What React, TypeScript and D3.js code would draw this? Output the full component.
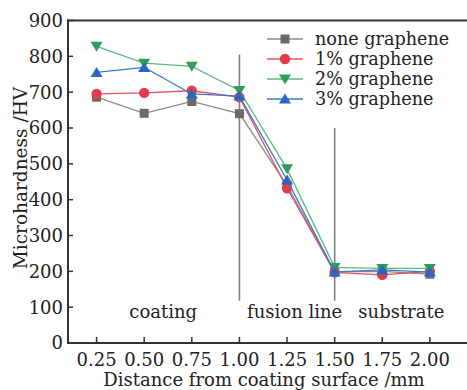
import React from "react";
import * as d3 from "d3";

const distances = [0.25, 0.5, 0.75, 1.0, 1.25, 1.5, 1.75, 2.0];
const noneGraphene = [686, 641, 674, 640, 440, 199, 200, 192];
const g1 = [695, 698, 704, 686, 432, 197, 190, 200];
const g2 = [828, 781, 772, 705, 486, 211, 208, 208];
const g3 = [755, 769, 695, 689, 455, 198, 204, 198];
const seriesNames = ["none graphene", "1% graphene", "2% graphene", "3% graphene"];
const xTicks = [0.25, 0.5, 0.75, 1.0, 1.25, 1.5, 1.75, 2.0];
const yTicks = [0, 100, 200, 300, 400, 500, 600, 700, 800, 900];
const regions = [
  { label: "coating", x: 0.6 },
  { label: "fusion line", x: 1.29 },
  { label: "substrate", x: 1.85 },
];
const dividers = [
  { x: 1.0, top: 805 },
  { x: 1.5, top: 600 },
];

const FONT = "'DejaVu Serif', serif";

export default function App() {
  const W = 467, H = 390;
  const x = d3.scaleLinear().domain([0.1, 2.2]).range([68, 468]);
  const y = d3.scaleLinear().domain([0, 900]).range([343, 20.5]);
  const data = [noneGraphene, g1, g2, g3];
  const lineColors = ["#8a8a8a", "#e8505e", "#5dba7e", "#3a78cc"];
  const markColors = ["#6a6a6a", "#e23c4c", "#2f9e5c", "#2a66bf"];
  const shapes = ["square", "circle", "down", "up"];
  const line = d3.line<number>().x((_, i) => x(distances[i])).y((d) => y(d));

  const marker = (shape: string, cx: number, cy: number, color: string, key: string) => {
    if (shape === "square") return <rect key={key} x={cx - 4.5} y={cy - 4.5} width={9} height={9} fill={color} />;
    if (shape === "circle") return <circle key={key} cx={cx} cy={cy} r={5.2} fill={color} />;
    if (shape === "down")
      return <path key={key} d={`M${cx - 6},${cy - 4.5}L${cx + 6},${cy - 4.5}L${cx},${cy + 5.5}Z`} fill={color} />;
    return <path key={key} d={`M${cx - 6},${cy + 4.5}L${cx + 6},${cy + 4.5}L${cx},${cy - 5.5}Z`} fill={color} />;
  };

  return (
    <svg width={W} height={H} style={{ position: "absolute", left: 0, top: 0, background: "#fff" }} fontFamily={FONT}>
      {dividers.map((d, i) => (
        <line key={i} x1={x(d.x)} x2={x(d.x)} y1={y(d.top)} y2={y(118)} stroke="#808080" strokeWidth={1.6} />
      ))}
      {data.map((s, si) => (
        <g key={si}>
          <path d={line(s) || ""} fill="none" stroke={lineColors[si]} strokeWidth={1.3} />
          {s.map((v, i) => marker(shapes[si], x(distances[i]), y(v), markColors[si], `${si}-${i}`))}
        </g>
      ))}
      <line x1={68} x2={68} y1={19.5} y2={344} stroke="#333" strokeWidth={2} />
      <line x1={67} x2={467} y1={343} y2={343} stroke="#333" strokeWidth={2} />
      <line x1={67} x2={467} y1={20.5} y2={20.5} stroke="#333" strokeWidth={2} />
      {yTicks.map((t) => (
        <g key={t}>
          <line x1={68} x2={73} y1={y(t)} y2={y(t)} stroke="#333" strokeWidth={1.5} />
          <text x={63} y={y(t)} dy="0.36em" textAnchor="end" fontSize={18} fill="#222">{t}</text>
        </g>
      ))}
      {xTicks.map((t) => (
        <g key={t}>
          <line x1={x(t)} x2={x(t)} y1={343} y2={337} stroke="#333" strokeWidth={1.5} />
          <text x={x(t)} y={366} textAnchor="middle" fontSize={18} fill="#222">{t.toFixed(2)}</text>
        </g>
      ))}
      {regions.map((r) => (
        <text key={r.label} x={x(r.x)} y={318} textAnchor="middle" fontSize={18} fill="#222">{r.label}</text>
      ))}
      <text x={264} y={386} textAnchor="middle" fontSize={18} fill="#222">Distance from coating surface /mm</text>
      <text transform={`translate(27,${178}) rotate(-90)`} textAnchor="middle" fontSize={18.5} fill="#222">Microhardness /HV</text>
      {seriesNames.map((n, i) => {
        const ly = 39 + i * 20;
        return (
          <g key={n}>
            <line x1={267} x2={303} y1={ly} y2={ly} stroke={lineColors[i]} strokeWidth={1.3} />
            {marker(shapes[i], 285, ly, markColors[i], "l" + i)}
            <text x={315} y={ly} dy="0.36em" fontSize={17.6} fill="#222">{n}</text>
          </g>
        );
      })}
    </svg>
  );
}
